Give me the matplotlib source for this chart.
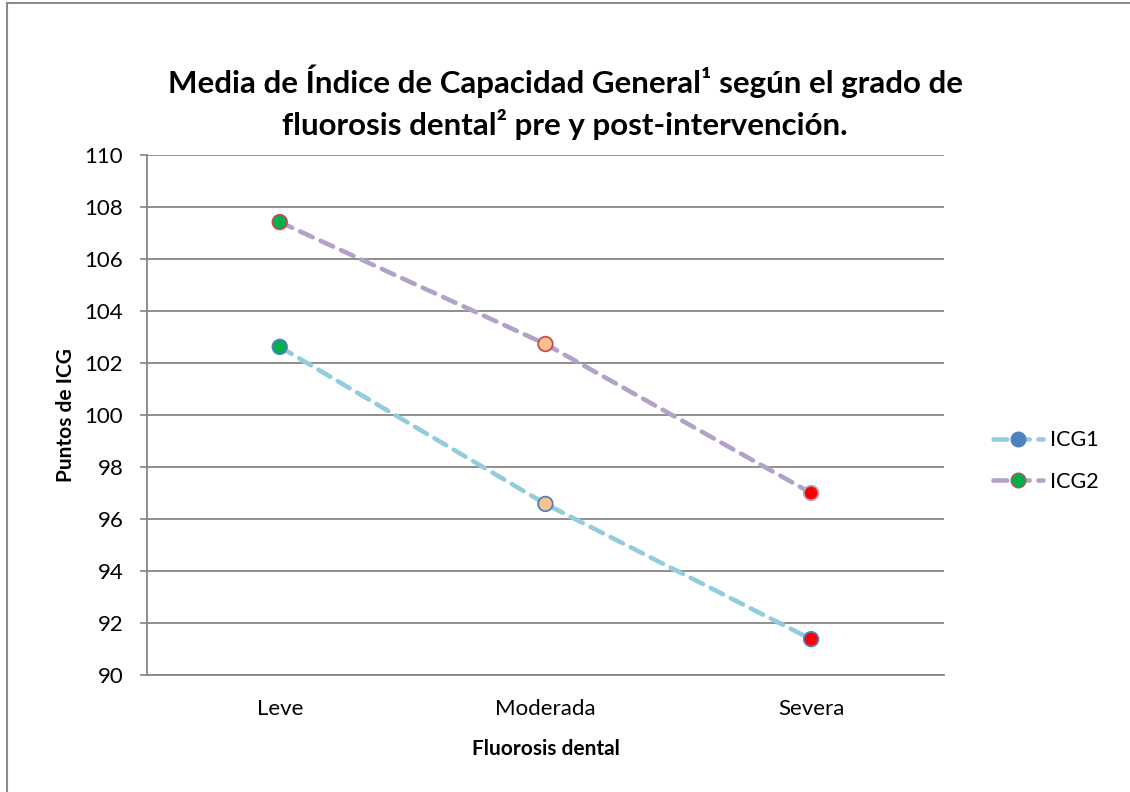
import matplotlib.pyplot as plt
from matplotlib.lines import Line2D
from matplotlib.patches import Rectangle

plt.rcParams['font.family'] = ['Lato', 'DejaVu Sans']

# data
categorias = ["Leve", "Moderada", "Severa"]
icg1 = [102.62, 96.58, 91.38]
icg2 = [107.42, 102.73, 97.0]

# marker styles per point
relleno = ["#00B050", "#FAC090", "#FF0000"]
borde_icg1 = ["#4F81BD", "#4F81BD", "#4F81BD"]
borde_icg2 = ["#C0504D", "#C0504D", "#B3A2C7"]

col_icg1 = "#93CDDD"
col_icg2 = "#B3A2C7"
grid_col = "#868686"

fig = plt.figure(figsize=(11.3, 7.92), dpi=100)
ax = fig.add_axes([0.130, 0.1477, 0.7054, 0.6566])

x = list(range(len(categorias)))
dash = (0, (3.0, 1.9))
ax.plot(x, icg1, color=col_icg1, lw=3.3, linestyle=dash, dash_capstyle='round', zorder=3)
ax.plot(x, icg2, color=col_icg2, lw=3.3, linestyle=dash, dash_capstyle='round', zorder=3)
ax.scatter(x, icg1, s=110, c=relleno, edgecolors=borde_icg1, linewidths=1.3, zorder=4)
ax.scatter(x, icg2, s=110, c=relleno, edgecolors=borde_icg2, linewidths=1.3, zorder=4)

ax.set_xlim(-0.5, 2.5)
ax.set_ylim(90, 110)
ax.set_yticks(range(90, 111, 2))
ax.set_xticks(x)
ax.set_xticklabels(categorias)
ax.tick_params(axis='x', length=0, pad=17, labelsize=16)
ax.tick_params(axis='y', length=5, color=grid_col, width=1.2, pad=12, labelsize=16)
ax.yaxis.grid(True, color=grid_col, lw=1.3)
ax.set_axisbelow(True)
for s in ['top', 'right']:
    ax.spines[s].set_visible(False)
for s in ['left', 'bottom']:
    ax.spines[s].set_color(grid_col)
    ax.spines[s].set_linewidth(1.3)

ax.set_xlabel("Fluorosis dental", fontsize=15, fontweight='bold', labelpad=15)
ax.set_ylabel("Puntos de ICG", fontsize=15, fontweight='bold', labelpad=6)

fig.text(0.5, 0.871, "Media de Índice de Capacidad General¹ según el grado de\nfluorosis dental² pre y post-intervención.",
         ha='center', va='center', fontsize=22.5, fontweight='bold', linespacing=1.45)

handles = [
    Line2D([], [], color=col_icg1, lw=3.3, linestyle=dash, dash_capstyle='round',
           marker='o', markersize=10.5, markerfacecolor="#4F81BD", markeredgecolor="#4F81BD"),
    Line2D([], [], color=col_icg2, lw=3.3, linestyle=dash, dash_capstyle='round',
           marker='o', markersize=10.5, markerfacecolor="#00B050", markeredgecolor="#C0504D"),
]
fig.legend(handles, ["ICG1", "ICG2"], loc='center left', bbox_to_anchor=(0.862, 0.418),
           frameon=False, fontsize=15.5, handlelength=2.3, labelspacing=1.0, handletextpad=0.35)

# chart border (left and top visible)
fig.add_artist(Rectangle((0.0062, -0.01), 1.1, 1.006, transform=fig.transFigure,
                         fill=False, edgecolor="#8C8C8C", lw=1.5))

fig.savefig("out.png", dpi=100)
